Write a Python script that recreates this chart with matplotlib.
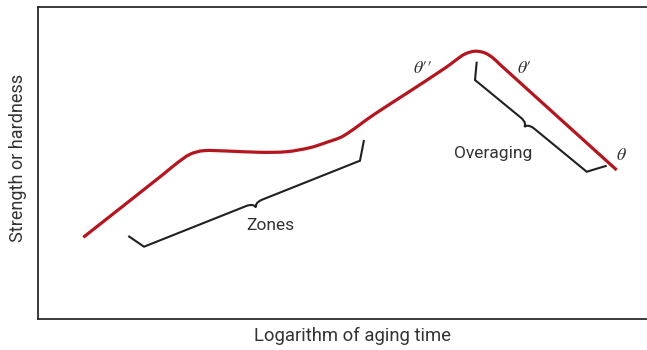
import numpy as np
import matplotlib
matplotlib.use("Agg")
import matplotlib.pyplot as plt
from matplotlib.path import Path
from matplotlib.patches import PathPatch

# Aging curve (log aging time vs strength, arbitrary units)
log_time = [7.44, 20.57, 22.78, 24.96, 27.14, 30.99, 36.45, 40.84, 44.66, 47.41,
            50.13, 55.06, 60.54, 66.99, 68.64, 70.11, 71.76, 73.40, 74.71, 75.86, 95.02]
strength = [13.33, 23.68, 25.48, 26.96, 27.55, 27.50, 27.29, 27.39, 28.05, 28.93,
            29.97, 33.42, 36.98, 41.22, 42.45, 43.43, 43.89, 43.60, 42.78, 41.71, 24.38]

# Brackets: [tick end, corner, corner, tick end]
zones_x = [14.83, 17.41, 52.87, 53.53]
zones_y = [13.55, 11.79, 25.91, 29.31]
over_x = [72.04, 71.76, 90.10, 93.38]
over_y = [42.17, 39.16, 24.10, 25.09]

labels = ["Zones", "Overaging"]
label_x = [38.10, 74.71]
label_y = [14.53, 26.40]

phase_labels = [r"$\theta\prime\prime$", r"$\theta\prime$", r"$\theta$"]
phase_x = [63.23, 79.85, 95.85]
phase_y = [41.08, 41.08, 26.85]

RED = "#B3161E"
BLACK = "#231F20"
TEXT = "#333333"
W, H = 647, 350

plt.rcParams["mathtext.fontset"] = "stix"

fig = plt.figure(figsize=(W / 100, H / 100), dpi=100)
ax = fig.add_axes([38 / W, (H - 318.5) / H, 609 / W, 311.5 / H])
ax.set_xlim(0, 100)
ax.set_ylim(0, 311.5 / 6.09)
ax.set_xticks([])
ax.set_yticks([])
for s in ["left", "top", "bottom"]:
    ax.spines[s].set_linewidth(1.3)
    ax.spines[s].set_color("#2b2b2b")
ax.spines["right"].set_visible(False)

# Smooth curve through the read points (cubic segments, chord-scaled tangents)
P = np.column_stack([log_time, strength])
n = len(P)
tang = np.zeros_like(P)
for i in range(n):
    a = P[max(i - 1, 0)]
    b = P[min(i + 1, n - 1)]
    d = b - a
    tang[i] = d / np.linalg.norm(d)
verts = [P[0]]
codes = [Path.MOVETO]
for i in range(n - 1):
    L = np.linalg.norm(P[i + 1] - P[i])
    verts += [P[i] + tang[i] * L / 3, P[i + 1] - tang[i + 1] * L / 3, P[i + 1]]
    codes += [Path.CURVE4] * 3
ax.add_patch(PathPatch(Path(verts, codes), fill=False, edgecolor=RED, lw=2.3,
                       capstyle="butt", joinstyle="round", zorder=3))


def bracket(xs, ys, frac, a=1.5, h=0.8):
    p = np.column_stack([xs, ys]).astype(float)
    s0, s1 = p[1], p[2]
    t = (s1 - s0) / np.linalg.norm(s1 - s0)
    nn = np.array([t[1], -t[0]])
    c = s0 + frac * (s1 - s0)
    v = [p[0], p[1], c - a * t,
         c - 0.2 * a * t, c + 0.6 * h * nn - 0.05 * a * t, c + h * nn,
         c + 0.6 * h * nn + 0.05 * a * t, c + 0.2 * a * t, c + a * t,
         p[2], p[3]]
    cd = [Path.MOVETO, Path.LINETO, Path.LINETO,
          Path.CURVE4, Path.CURVE4, Path.CURVE4,
          Path.CURVE4, Path.CURVE4, Path.CURVE4,
          Path.LINETO, Path.LINETO]
    ax.add_patch(PathPatch(Path(v, cd), fill=False, edgecolor=BLACK,
                           lw=1.5, joinstyle="miter", capstyle="butt", zorder=2))


bracket(zones_x, zones_y, 0.51)
bracket(over_x, over_y, 0.47)

font = "Roboto"
for lab, x, y in zip(labels, label_x, label_y):
    ax.text(x, y, lab, ha="center", va="baseline", fontsize=12.5,
            family=font, color=TEXT)

for lab, x, y in zip(phase_labels, phase_x, phase_y):
    ax.text(x, y, lab, ha="center", va="center", fontsize=13, color=TEXT)

fig.text(352 / W, 1 - 336 / H, "Logarithm of aging time", ha="center", va="center",
         fontsize=13.3, family=font, color=TEXT)
fig.text(18.5 / W, 1 - 158 / H, "Strength or hardness", ha="center", va="center",
         rotation=90, fontsize=13, family=font, color=TEXT)

fig.savefig("out.png", dpi=100)
